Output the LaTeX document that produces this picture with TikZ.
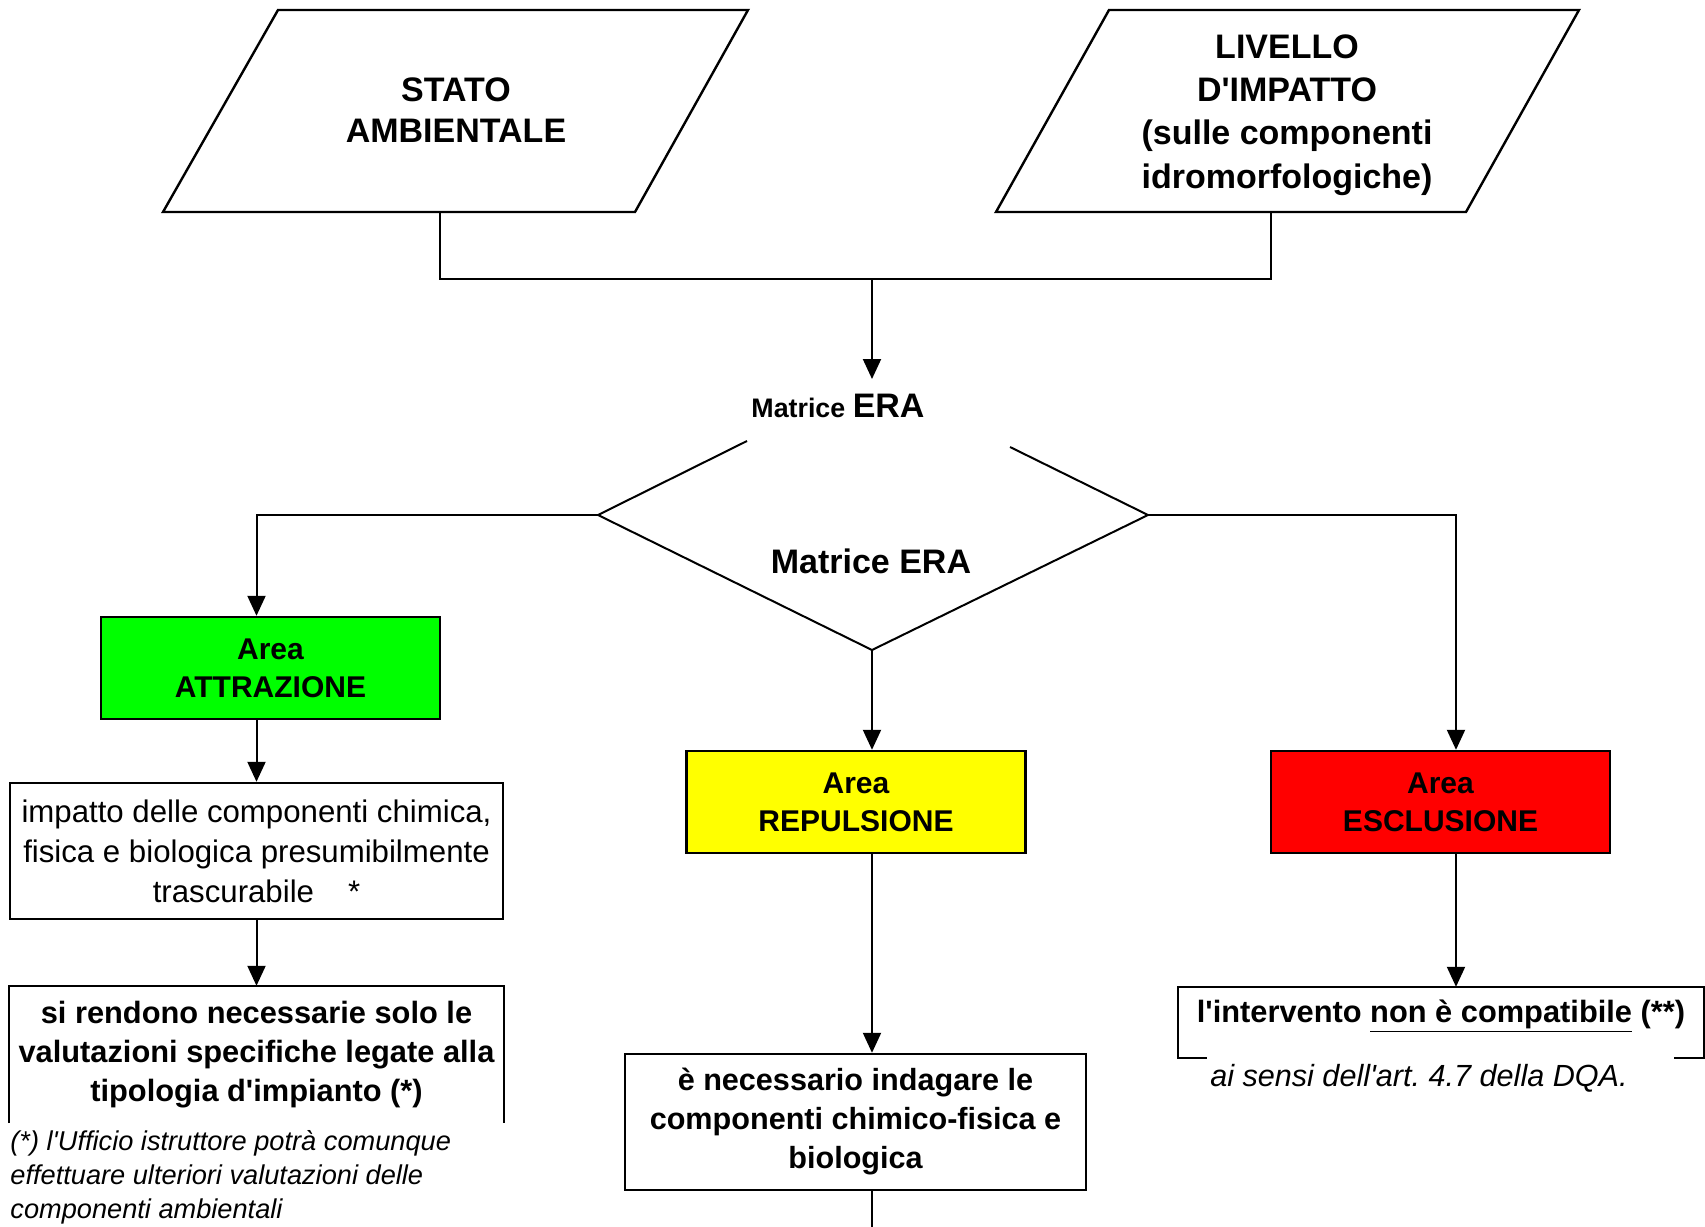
\documentclass[tikz,border=0pt]{standalone}
\usepackage{fontspec}
\setmainfont{Liberation Sans}
\usetikzlibrary{arrows.meta,calc}
\frenchspacing

\tikzset{
  link/.style={line width=1pt},
  flow/.style={line width=1pt, -{Triangle[width=9pt,length=10pt]}},
  frame/.style={line width=1.2pt},
  areabox/.style={draw, frame, minimum width=169.5pt, minimum height=51pt, inner sep=0pt, align=center, font=\fontsize{15}{19}\selectfont\bfseries},
  textbox/.style={frame, inner sep=0pt, align=center},
}

\newcommand{\q}{\textquotesingle}

\begin{document}
\begin{tikzpicture}[x=0.5pt,y=-0.5pt]
				\useasboundingbox (0,0) rectangle (1705,1227);

				%Nodes
				\coordinate      (p1a) 	at 	(278,10);
				\coordinate      (p1b) 	at 	(748,10);
				\coordinate      (p1c) 	at 	(635,212);
				\coordinate      (p1d) 	at 	(163,212);
				\coordinate      (p2a) 	at 	(1109,10);
				\coordinate      (p2b) 	at 	(1579,10);
				\coordinate      (p2c) 	at 	(1466,212);
				\coordinate      (p2d) 	at 	(996,212);
				\coordinate      (s1) 	at 	(440,212);
				\coordinate      (s2) 	at 	(1271,212);
				\coordinate      (j) 	at 	(872,279);
				\coordinate      (dl) 	at 	(598,515);
				\coordinate      (dt) 	at 	(872,379);
				\coordinate      (dr) 	at 	(1148,515);
				\coordinate      (db) 	at 	(872,650);
				\coordinate      (dlcut) at 	(747,441);
				\coordinate      (drcut) at 	(1010,447);
				\coordinate      (rcol) 	at 	(1456,0);
				\coordinate      (mend) 	at 	(872,1227);

				\node[font=\fontsize{17}{20.5}\selectfont\bfseries, align=center] (stato) at (456,110) {STATO\\AMBIENTALE};
				\node[font=\fontsize{17}{21.7}\selectfont\bfseries, align=center] (livello) at (1287,115) {LIVELLO\\D\q IMPATTO\\(sulle componenti\\idromorfologiche)};
				\node[font=\bfseries, anchor=base] (era) at (838,417) {\fontsize{13.4}{16}\selectfont Matrice \fontsize{17}{20}\selectfont ERA};
				\node[font=\fontsize{17}{20}\selectfont\bfseries] (matrice) at (871,561) {Matrice ERA};

				\node[areabox, fill={rgb,255:red,0;green,255;blue,0}] (green) at (270.5,668) {Area\\ATTRAZIONE};
				\node[areabox, fill={rgb,255:red,255;green,255;blue,0}] (yellow) at (856,802) {Area\\REPULSIONE};
				\node[areabox, fill={rgb,255:red,255;green,0;blue,0}] (red) at (1440.5,802) {Area\\ESCLUSIONE};

				\node[textbox, draw, minimum width=246.5pt, minimum height=68pt, font=\fontsize{15.6}{20}\selectfont] (impact) at (256.5,851) {impatto delle componenti chimica,\\fisica e biologica presumibilmente\\trascurabile\hspace{17pt}*};
				\node[textbox, minimum width=246.5pt, minimum height=67.5pt, font=\fontsize{15.4}{19.5}\selectfont\bfseries] (valut) at (256.5,1054.5) {si rendono necessarie solo le\\valutazioni specifiche legate alla\\tipologia d\q impianto (*)};
				\node[anchor=west, align=left, inner sep=0pt, font=\fontsize{13.6}{17}\selectfont\itshape] (note) at (10,1177) {(*) l\q Ufficio istruttore potrà comunque\\effettuare ulteriori valutazioni delle\\componenti ambientali};
				\node[textbox, draw, minimum width=230.5pt, minimum height=68pt, font=\fontsize{15.3}{19.5}\selectfont\bfseries] (indag) at (855.5,1122) {è necessario indagare le\\componenti chimico-fisica e\\biologica};
				\node[textbox, minimum width=262pt, minimum height=34.5pt, text height=0pt, text depth=0pt, font=\fontsize{15.4}{19}\selectfont\bfseries] (incomp) at (1441,1022.5) {l\q intervento \underline{non è compatibile} (**)};
				\node[inner sep=0pt, font=\fontsize{15.3}{19}\selectfont\itshape] (dqa) at (1419,1078) {ai sensi dell\q art. 4.7 della DQA.};

				%Shapes
				\draw[frame] (p1a) -- (p1b) -- (p1c) -- (p1d) -- cycle;
				\draw[frame] (p2a) -- (p2b) -- (p2c) -- (p2d) -- cycle;
				\draw[link] (dlcut) -- (dl) -- (db) -- (dr) -- (drcut);
				\draw[frame] (valut.south west) -- (valut.north west) -- (valut.north east) -- (valut.south east);
				\draw[frame] ($(incomp.south west)+(29,0)$) -- (incomp.south west) -- (incomp.north west) -- (incomp.north east) -- (incomp.south east) -- ($(incomp.south east)+(-30,0)$);

				%Lines
				\draw[link] (s1) |- (j) -| (s2);
				\draw[flow] (j) -- (dt);
				\draw[flow] (dl) -| (green.north -| impact.north);
				\draw[flow] (green.south -| impact.north) -- (impact.north);
				\draw[flow] (impact.south) -- (valut.north);
				\draw[flow] (db) -- (yellow.north -| db);
				\draw[flow] (yellow.south -| db) -- (indag.north -| db);
				\draw[link] (indag.south -| db) -- (mend);
				\draw[flow] (dr) -| (red.north -| rcol);
				\draw[flow] (red.south -| rcol) -- (incomp.north -| rcol);

			\end{tikzpicture}
\end{document}
